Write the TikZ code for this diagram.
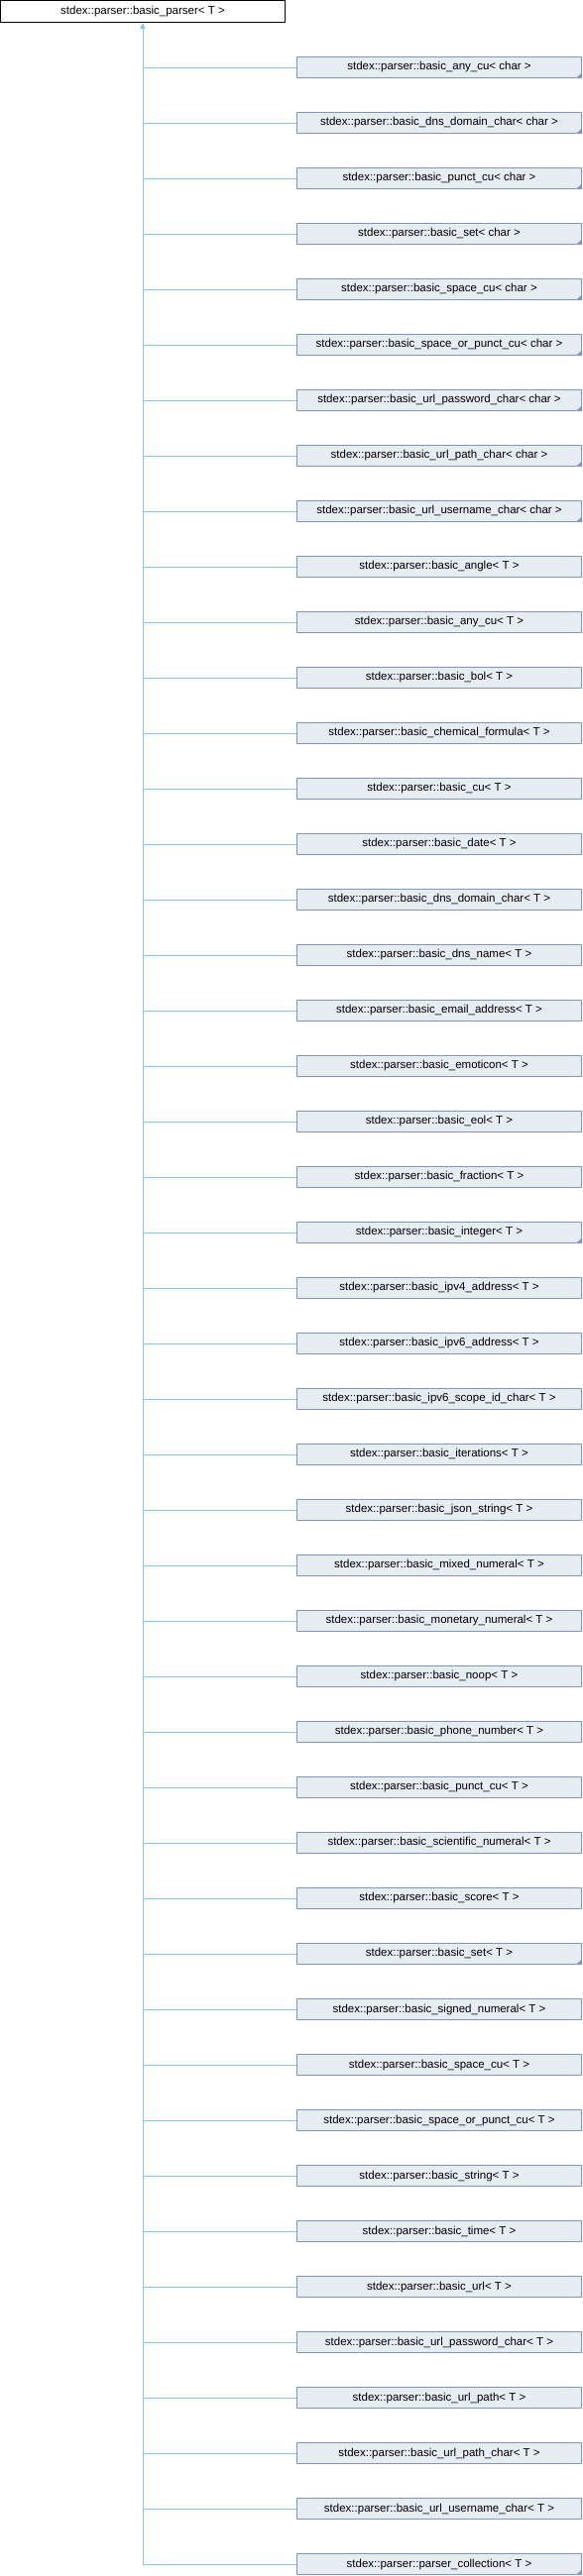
\documentclass[tikz,border=0pt]{standalone}
\usepackage{fontspec}
\setmainfont{Liberation Sans}
\usetikzlibrary{arrows.meta}
\definecolor{boxfill}{HTML}{E8ECF5}
\definecolor{boxdraw}{HTML}{7F96C9}
\definecolor{edgecol}{HTML}{8DC5EA}
\begin{document}
\begin{tikzpicture}[x=1pt,y=-1pt,
  basebox/.style={line width=1pt,minimum width=287pt,inner sep=0pt,font=\fontsize{11.5}{13}\selectfont},
  topbox/.style={basebox,draw=black,fill=white,minimum height=22pt},
  cls/.style={basebox,draw=boxdraw,fill=boxfill,minimum height=21pt},
  inh/.style={draw=edgecol,line width=1pt},
  corner/.style={fill=boxdraw}
]
\useasboundingbox (0,0) rectangle (588,2600);
\node[topbox] (top) at (144,11.5) {stdex::parser::basic\_parser< T >};
\foreach \n [count=\i] in {
 basic\_any\_cu< char >,
 basic\_dns\_domain\_char< char >,
 basic\_punct\_cu< char >,
 basic\_set< char >,
 basic\_space\_cu< char >,
 basic\_space\_or\_punct\_cu< char >,
 basic\_url\_password\_char< char >,
 basic\_url\_path\_char< char >,
 basic\_url\_username\_char< char >,
 basic\_angle< T >,
 basic\_any\_cu< T >,
 basic\_bol< T >,
 basic\_chemical\_formula< T >,
 basic\_cu< T >,
 basic\_date< T >,
 basic\_dns\_domain\_char< T >,
 basic\_dns\_name< T >,
 basic\_email\_address< T >,
 basic\_emoticon< T >,
 basic\_eol< T >,
 basic\_fraction< T >,
 basic\_integer< T >,
 basic\_ipv4\_address< T >,
 basic\_ipv6\_address< T >,
 basic\_ipv6\_scope\_id\_char< T >,
 basic\_iterations< T >,
 basic\_json\_string< T >,
 basic\_mixed\_numeral< T >,
 basic\_monetary\_numeral< T >,
 basic\_noop< T >,
 basic\_phone\_number< T >,
 basic\_punct\_cu< T >,
 basic\_scientific\_numeral< T >,
 basic\_score< T >,
 basic\_set< T >,
 basic\_signed\_numeral< T >,
 basic\_space\_cu< T >,
 basic\_space\_or\_punct\_cu< T >,
 basic\_string< T >,
 basic\_time< T >,
 basic\_url< T >,
 basic\_url\_password\_char< T >,
 basic\_url\_path< T >,
 basic\_url\_path\_char< T >,
 basic\_url\_username\_char< T >,
 parser\_collection< T >}
{
  \node[cls] (c\i) at (443,{68+56*(\i-1)}) {stdex::parser::\n};
  \draw[inh] (top.south |- c\i.west) -- (c\i.west);
}
\foreach \i in {1,2,3,4,5,6,7,8,9,22,35,46}
  \fill[corner] (c\i.south east) -- ++(-6,0) -- ++(6,-6) -- cycle;
\draw[inh,-{Triangle[length=6pt,width=5pt]}] (top.south |- c46.west) -- (top.south);
\end{tikzpicture}
\end{document}
